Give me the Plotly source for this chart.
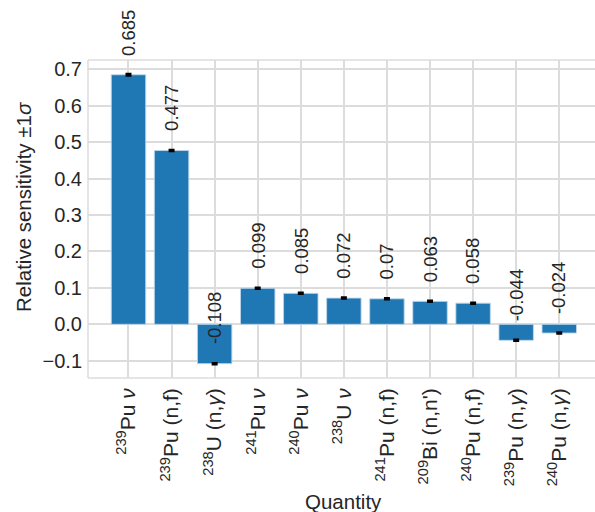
import plotly.graph_objects as go

# Relative sensitivity of each nuclear-data quantity (±1σ perturbation)
quantities = [
    "<sup>239</sup>Pu <i>ν</i>",
    "<sup>239</sup>Pu (n,f)",
    "<sup>238</sup>U (n,<i>γ</i>)",
    "<sup>241</sup>Pu <i>ν</i>",
    "<sup>240</sup>Pu <i>ν</i>",
    "<sup>238</sup>U <i>ν</i>",
    "<sup>241</sup>Pu (n,f)",
    "<sup>209</sup>Bi (n,n')",
    "<sup>240</sup>Pu (n,f)",
    "<sup>239</sup>Pu (n,<i>γ</i>)",
    "<sup>240</sup>Pu (n,<i>γ</i>)",
]
sensitivity = [0.685, 0.477, -0.108, 0.099, 0.085, 0.072, 0.070, 0.063, 0.058, -0.044, -0.024]
uncertainty = [0.003, 0.002, 0.002, 0.002, 0.002, 0.002, 0.002, 0.002, 0.002, 0.002, 0.002]
y_ticks = [-0.1, 0.0, 0.1, 0.2, 0.3, 0.4, 0.5, 0.6, 0.7]

FONT = "Liberation Sans, Arial, sans-serif"
TEXT = "#262626"
GRID = "#dcdcdc"

Y_RANGE = [-0.1474, 0.7255]
LABEL_OFFSET = 0.05  # label baseline sits this far above the bar value (data units)

positions = list(range(len(quantities)))

fig = go.Figure(
    go.Bar(
        x=positions,
        y=sensitivity,
        width=0.8,
        marker=dict(color="#1f77b4", line=dict(color="rgba(190,215,235,0.9)", width=1)),
        error_y=dict(type="data", array=uncertainty, color="black", thickness=2, width=3),
        showlegend=False,
    )
)


def to_paper(yval):
    return (yval - Y_RANGE[0]) / (Y_RANGE[1] - Y_RANGE[0])


# value labels, rotated, just above each bar's value (may extend above the axes)
for xi, v in zip(positions, sensitivity):
    fig.add_annotation(
        x=xi, y=to_paper(v + LABEL_OFFSET), xref="x", yref="paper",
        text=f"{v:g}", textangle=-90,
        xanchor="center", yanchor="bottom",
        showarrow=False, borderpad=0,
        font=dict(family=FONT, size=18.5, color=TEXT),
    )

# axis titles
fig.add_annotation(
    xref="paper", yref="paper", x=-0.126, y=0.538,
    text="Relative sensitivity ±1<i>σ</i>", textangle=-90,
    xanchor="center", yanchor="middle", showarrow=False,
    font=dict(family=FONT, size=20.5, color=TEXT),
)
fig.add_annotation(
    xref="paper", yref="paper", x=0.504, y=-0.387,
    text="Quantity", xanchor="center", yanchor="middle", showarrow=False,
    font=dict(family=FONT, size=20.5, color=TEXT),
)

# light frame on left, top and bottom
for x0, y0, x1, y1 in [(0, 0, 0, 1), (0, 1, 1, 1), (0, 0, 1, 0)]:
    fig.add_shape(type="line", xref="paper", yref="paper", x0=x0, y0=y0, x1=x1, y1=y1,
                  line=dict(color=GRID, width=1.5), layer="below")

fig.update_layout(
    width=595, height=512,
    margin=dict(l=88, r=0, t=60, b=134),
    paper_bgcolor="white", plot_bgcolor="white",
    font=dict(family=FONT, color=TEXT),
    xaxis=dict(
        range=[-0.94, 10.83],
        tickvals=positions, ticktext=quantities, tickangle=-90,
        showgrid=True, gridcolor=GRID, gridwidth=1.5,
        zeroline=False, ticks="", ticklen=0, ticklabelstandoff=5,
        tickfont=dict(family=FONT, size=21, color=TEXT),
    ),
    yaxis=dict(
        range=Y_RANGE,
        tickvals=y_ticks, tickformat=".1f",
        showgrid=True, gridcolor=GRID, gridwidth=1.5,
        zeroline=False, ticks="", ticklabelstandoff=5,
        tickfont=dict(family=FONT, size=20, color=TEXT),
    ),
)

fig.write_html("out.html")
